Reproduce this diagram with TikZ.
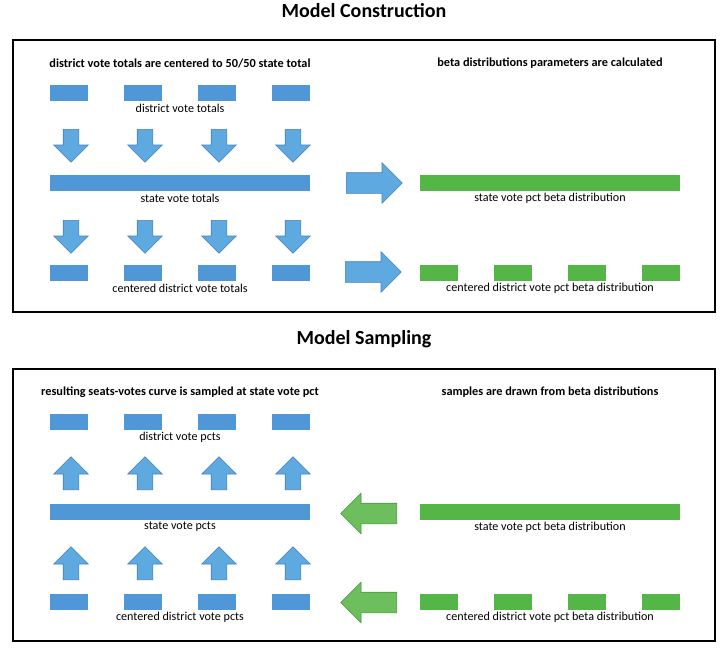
\documentclass[tikz,border=0pt]{standalone}
\usepackage{fontspec}
\setmainfont{Carlito}
\usetikzlibrary{positioning,shapes.arrows}

\definecolor{barblue}{RGB}{79,151,214}
\definecolor{arrowblue}{RGB}{93,169,224}
\definecolor{edgeblue}{RGB}{68,128,188}
\definecolor{bargreen}{RGB}{85,182,72}
\definecolor{arrowgreen}{RGB}{108,191,92}
\definecolor{edgegreen}{RGB}{78,150,64}

\begin{document}
\begin{tikzpicture}[x=1pt, y=-1pt,
    % Box and bar styles
    frame/.style={draw=black, line width=2pt},
    distbox/.style={fill=barblue, minimum width=38pt, minimum height=16pt, inner sep=0pt},
    statebar/.style={fill=barblue, minimum width=260pt, minimum height=16pt, inner sep=0pt},
    betabox/.style={fill=bargreen, minimum width=38pt, minimum height=16pt, inner sep=0pt},
    betabar/.style={fill=bargreen, minimum width=260pt, minimum height=16pt, inner sep=0pt},
    % Block arrow styles (placed by their tail)
    vflow/.style={single arrow, fill=arrowblue, draw=edgeblue, line width=0.6pt,
        inner ysep=0pt, inner xsep=7.5pt, single arrow head extend=9.5pt,
        single arrow tip angle=90, minimum height=33pt, anchor=tail},
    hflow/.style={single arrow, draw=edgeblue, fill=arrowblue, line width=0.6pt,
        inner xsep=0pt, inner ysep=10pt, single arrow head extend=10pt,
        single arrow tip angle=90, minimum height=56pt, anchor=tail},
    backflow/.style={hflow, fill=arrowgreen, draw=edgegreen, shape border rotate=180},
    % Label styles
    heading/.style={font=\fontsize{20}{24}\selectfont\bfseries},
    stage/.style={font=\fontsize{12.3}{14}\selectfont\bfseries},
    caption/.style={font=\fontsize{12.1}{14}\selectfont},
]
\useasboundingbox (0,0) rectangle (728,651);

% Model construction
\node[heading] (con-title) at (364,11) {Model Construction};
\draw[frame] (13,40) rectangle (715,312);
\node[stage] (con-left) at (180,63) {district vote totals are centered to 50/50 state total};
\node[stage] (con-right) at (550,63) {beta distributions parameters are calculated};

\node[distbox] (con-d1) at (69,93) {};
\node[distbox] (con-d2) at (143,93) {};
\node[distbox] (con-d3) at (217,93) {};
\node[distbox] (con-d4) at (291,93) {};
\node[caption] (con-dlab) at (180,108) {district vote totals};

\node[vflow, shape border rotate=270] (con-a1) at (71,129) {};
\node[vflow, shape border rotate=270] (con-a2) at (145,129) {};
\node[vflow, shape border rotate=270] (con-a3) at (219,129) {};
\node[vflow, shape border rotate=270] (con-a4) at (293,129) {};

\node[statebar] (con-state) at (180,183) {};
\node[caption] (con-slab) at (180,198) {state vote totals};

\node[vflow, shape border rotate=270] (con-b1) at (71,220) {};
\node[vflow, shape border rotate=270] (con-b2) at (145,220) {};
\node[vflow, shape border rotate=270] (con-b3) at (219,220) {};
\node[vflow, shape border rotate=270] (con-b4) at (293,220) {};

\node[distbox] (con-c1) at (69,273) {};
\node[distbox] (con-c2) at (143,273) {};
\node[distbox] (con-c3) at (217,273) {};
\node[distbox] (con-c4) at (291,273) {};
\node[caption] (con-clab) at (180,288) {centered district vote totals};

\node[hflow] (con-r1) at (346,183) {};
\node[hflow] (con-r2) at (345,272) {};

\node[betabar] (con-beta) at (550,183) {};
\node[caption] (con-blab) at (550,198) {state vote pct beta distribution};
\node[betabox] (con-g1) at (439,273) {};
\node[betabox] (con-g2) at (513,273) {};
\node[betabox] (con-g3) at (587,273) {};
\node[betabox] (con-g4) at (661,273) {};
\node[caption] (con-glab) at (550,288) {centered district vote pct beta distribution};

% Model sampling
\node[heading] (smp-title) at (364,339) {Model Sampling};
\draw[frame] (13,369) rectangle (715,641);
\node[stage] (smp-left) at (180,392) {resulting seats-votes curve is sampled at state vote pct};
\node[stage] (smp-right) at (550,392) {samples are drawn from beta distributions};

\node[distbox] (smp-d1) at (69,422) {};
\node[distbox] (smp-d2) at (143,422) {};
\node[distbox] (smp-d3) at (217,422) {};
\node[distbox] (smp-d4) at (291,422) {};
\node[caption] (smp-dlab) at (180,437) {district vote pcts};

\node[vflow, shape border rotate=90] (smp-a1) at (71,490) {};
\node[vflow, shape border rotate=90] (smp-a2) at (145,490) {};
\node[vflow, shape border rotate=90] (smp-a3) at (219,490) {};
\node[vflow, shape border rotate=90] (smp-a4) at (293,490) {};

\node[statebar] (smp-state) at (180,512) {};
\node[caption] (smp-slab) at (180,527) {state vote pcts};

\node[vflow, shape border rotate=90] (smp-b1) at (71,580) {};
\node[vflow, shape border rotate=90] (smp-b2) at (145,580) {};
\node[vflow, shape border rotate=90] (smp-b3) at (219,580) {};
\node[vflow, shape border rotate=90] (smp-b4) at (293,580) {};

\node[distbox] (smp-c1) at (69,602) {};
\node[distbox] (smp-c2) at (143,602) {};
\node[distbox] (smp-c3) at (217,602) {};
\node[distbox] (smp-c4) at (291,602) {};
\node[caption] (smp-clab) at (180,617) {centered district vote pcts};

\node[backflow] (smp-l1) at (397,513.5) {};
\node[backflow] (smp-l2) at (397,602.5) {};

\node[betabar] (smp-beta) at (550,512) {};
\node[caption] (smp-blab) at (550,527) {state vote pct beta distribution};
\node[betabox] (smp-g1) at (439,602) {};
\node[betabox] (smp-g2) at (513,602) {};
\node[betabox] (smp-g3) at (587,602) {};
\node[betabox] (smp-g4) at (661,602) {};
\node[caption] (smp-glab) at (550,617) {centered district vote pct beta distribution};

\end{tikzpicture}
\end{document}
